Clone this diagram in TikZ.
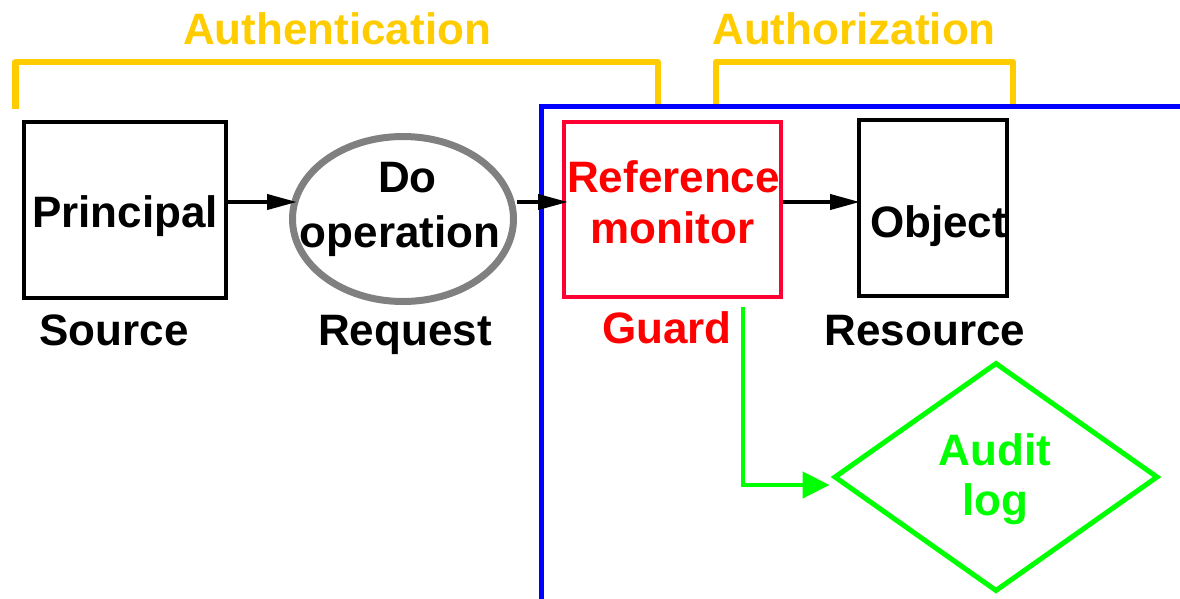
\documentclass[tikz,border=0pt]{standalone}
\usepackage{fontspec}
\setmainfont{Liberation Sans}
\usetikzlibrary{shapes.geometric,arrows.meta}
\definecolor{gold}{HTML}{FFCC00}
\definecolor{guardred}{HTML}{FF0033}
\definecolor{lime}{HTML}{00FF00}
\definecolor{midgrey}{HTML}{808080}
\tikzset{
  txt/.style={anchor=base,inner sep=0pt,font=\fontsize{44}{52}\selectfont\bfseries},
  boxshape/.style={draw,rectangle,inner sep=0pt},
  arr/.style={line width=4pt,-{Triangle[length=30pt,width=15pt]}},
  garr/.style={draw=lime,line width=4.5pt,-{Triangle[length=27pt,width=26pt]}},
  bracket/.style={draw=gold,line width=6.5pt,line join=round},
}
\begin{document}
\begin{tikzpicture}[x=1pt,y=-1pt]
\useasboundingbox (0,0) rectangle (1180,598);

% brackets over the two phases
\draw[bracket] (15.5,109) -- (15.5,62) -- (658,62) -- (658,109);
\draw[bracket] (716,109) -- (716,62) -- (1013,62) -- (1013,109);
\node[txt,text=gold] (authn) at (337,44) {Authentication};
\node[txt,text=gold] (authz) at (854,44) {Authorization};

% boundary of the protected side
\coordinate (bbot) at (541,600);
\coordinate (bcorner) at (541,106);
\coordinate (bright) at (1182,106);
\draw[blue,line width=5pt] (bbot) -- (bcorner) -- (bright);

% shapes
\node[boxshape,line width=4pt,minimum width=202pt,minimum height=176pt] (principal) at (125,210) {};
\node[draw=midgrey,ellipse,line width=7pt,inner sep=0pt,minimum width=221pt,minimum height=165pt] (op) at (403,219) {};
\node[boxshape,draw=guardred,line width=4pt,minimum width=217pt,minimum height=175pt] (rm) at (672.5,209.5) {};
\node[boxshape,line width=4pt,minimum width=148pt,minimum height=176pt] (obj) at (933,208) {};
\node[draw=lime,diamond,line width=5pt,inner sep=0pt,minimum width=324pt,minimum height=229pt] (audit) at (996,477) {};

% texts inside the shapes
\node[txt] (principaltxt) at (125,227) {Principal};
\node[txt] (dotxt) at (407.5,192) {Do};
\node[txt] (optxt) at (400,247) {operation};
\node[txt,text=red] (reftxt) at (673.5,192) {Reference};
\node[txt,text=red] (montxt) at (672.5,243) {monitor};
\node[txt] (objtxt) at (938.5,237) {Object};
\node[txt,text=lime] (audittxt) at (995,465) {Audit};
\node[txt,text=lime] (logtxt) at (995,515) {log};

% captions
\node[txt] (source) at (114,345) {Source};
\node[txt] (request) at (405,345) {Request};
\node[txt,text=red] (guard) at (667,343) {Guard};
\node[txt] (resource) at (925,345) {Resource};

% connectors
\draw[arr] ([yshift=8pt]principal.east) -- ([xshift=8pt,yshift=8pt]principal.east -| op.west);
\draw[arr] ([yshift=17pt]op.east) -- ([xshift=6pt,yshift=17pt]op.east -| rm.west);
\draw[arr] ([yshift=7.5pt]rm.east) -- ([xshift=3pt,yshift=7.5pt]rm.east -| obj.west);
\coordinate (logstart) at (743,307);
\draw[garr] (logstart) |- ([xshift=-2pt,yshift=-8pt]audit.west);
\end{tikzpicture}
\end{document}
